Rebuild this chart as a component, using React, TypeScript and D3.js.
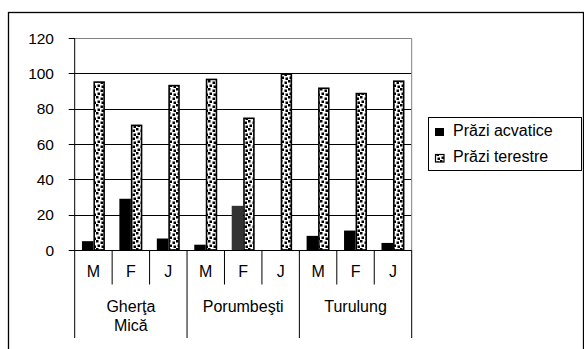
import React from "react";
import * as d3 from "d3";

const months = ["M", "F", "J", "M", "F", "J", "M", "F", "J"];
const sites = [["Gherţa", "Mică"], ["Porumbeşti"], ["Turulung"]];
const seriesNames = ["Prăzi acvatice", "Prăzi terestre"];
const aquatic = [5, 29, 6.5, 3, 25, 0, 8, 11, 4];
const terrestrial = [95.5, 71, 93.5, 97, 75, 100, 92, 89, 96];
const yTicks = [0, 20, 40, 60, 80, 100, 120];

const W = 584;
const H = 349;
const plotL = 74.7;
const plotR = 411.7;
const plotT = 38;
const plotB = 250;
const FONT = "'Liberation Sans', Arial, sans-serif";

export default function App() {
  const idx = months.map((_, i) => String(i));
  const x = d3.scaleBand<string>().domain(idx).range([plotL, plotR]).paddingInner(0).paddingOuter(0);
  const bw = x.bandwidth();
  const sub = d3.scaleBand<string>().domain(["a", "t"]).range([0, bw]).paddingInner(0).paddingOuter(0.63);
  const y = d3.scaleLinear().domain([0, 120]).range([plotB, plotT]);

  const groupBounds = [0, 3, 6, 9];

  return (
    <svg width={W} height={H} style={{ position: "absolute", left: 0, top: 0, background: "#fff" }} fontFamily={FONT}>
      <defs>
        <pattern id="confetti" width="8" height="8" patternUnits="userSpaceOnUse">
          <rect width="8" height="8" fill="#fff" />
          <rect x="0" y="0" width="2.5" height="2.5" fill="#000" />
          <rect x="4.5" y="1.5" width="2.5" height="2.5" fill="#000" />
          <rect x="1.5" y="4.5" width="2.5" height="2.5" fill="#000" />
          <rect x="5.5" y="5.5" width="2.5" height="2.5" fill="#000" />
        </pattern>
      </defs>
      {/* outer frame */}
      <rect x={8.5} y={12.5} width={575} height={345} fill="none" stroke="#000" strokeWidth={1.3} />

      {/* gridlines */}
      {yTicks.filter((t) => t > 0 && t < 120).map((t) => (
        <line key={t} x1={plotL} x2={plotR} y1={Math.round(y(t)) + 0.5} y2={Math.round(y(t)) + 0.5} stroke="#000" strokeWidth={1} />
      ))}
      {/* plot border */}
      <polyline points={`${plotL},${plotT + 0.5} ${plotR},${plotT + 0.5} ${plotR},${plotB}`} fill="none" stroke="#808080" strokeWidth={1} />

      {/* bars */}
      {months.map((_, i) => {
        const x0 = x(String(i))!;
        return (
          <g key={i}>
            {aquatic[i] > 0 && (
              <rect x={x0 + sub("a")!} y={y(aquatic[i])} width={sub.bandwidth()} height={plotB - y(aquatic[i])} fill={i === 4 ? "#333" : "#000"} />
            )}
            <rect x={x0 + sub("t")! + 0.8} y={y(terrestrial[i]) + 0.8} width={sub.bandwidth() - 1.6} height={plotB - y(terrestrial[i]) - 0.8} fill="url(#confetti)" stroke="#000" strokeWidth={1.6} />
          </g>
        );
      })}

      {/* y axis */}
      <line x1={plotL} x2={plotL} y1={plotT} y2={338} stroke="#000" strokeWidth={1} />
      {yTicks.map((t) => (
        <g key={t}>
          <line x1={plotL - 6} x2={plotL} y1={Math.round(y(t)) + 0.5} y2={Math.round(y(t)) + 0.5} stroke="#000" strokeWidth={1} />
          <text x={54} y={y(t) + 5.5} textAnchor="end" fontSize={15.5}>{t}</text>
        </g>
      ))}
      {/* x axis */}
      <line x1={plotL} x2={plotR} y1={plotB + 0.5} y2={plotB + 0.5} stroke="#000" strokeWidth={1} />
      <line x1={plotR} x2={plotR} y1={plotB} y2={338} stroke="#000" strokeWidth={1} />
      {d3.range(1, 9).map((i) => {
        const xx = x(String(i))!;
        const isGroup = groupBounds.includes(i);
        return <line key={i} x1={xx} x2={xx} y1={plotB} y2={isGroup ? 338 : 284.5} stroke="#000" strokeWidth={1} />;
      })}
      {months.map((m, i) => (
        <text key={i} x={x(String(i))! + bw / 2} y={277} textAnchor="middle" fontSize={16}>{m}</text>
      ))}
      {sites.map((lines, g) => {
        const cx = (x(String(groupBounds[g]))! + x(String(groupBounds[g + 1] - 1))! + bw) / 2;
        return lines.map((ln, k) => (
          <text key={`${g}-${k}`} x={cx} y={312 + k * 19} textAnchor="middle" fontSize={16}>{ln}</text>
        ));
      })}

      {/* legend */}
      <rect x={428.5} y={117.5} width={153} height={53} fill="#fff" stroke="#000" strokeWidth={1} />
      <rect x={435} y={128} width={9} height={8} fill="#000" />
      <text x={453} y={136} fontSize={16}>{seriesNames[0]}</text>
      <rect x={435.5} y={154.5} width={8.5} height={7.5} fill="url(#confetti)" stroke="#000" strokeWidth={1.2} />
      <text x={453} y={162} fontSize={16}>{seriesNames[1]}</text>
    </svg>
  );
}
